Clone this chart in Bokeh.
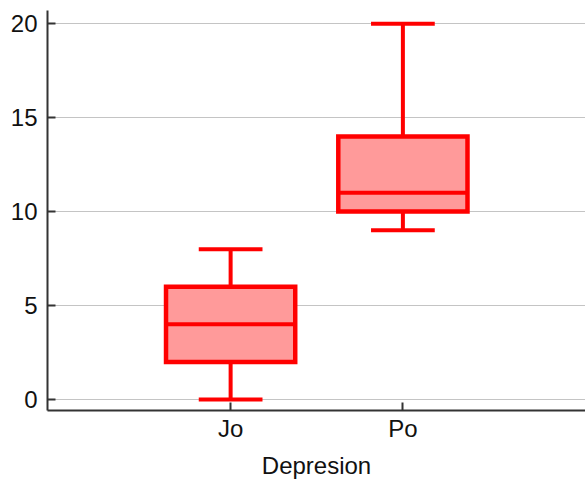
from bokeh.plotting import figure
from bokeh.models import Range1d, FixedTicker, ColumnDataSource
from bokeh.embed import file_html
from bokeh.resources import INLINE

categories = ["Jo", "Po"]
positions = [1, 2]
whisker_low = [0, 9]
q1 = [2, 10]
median = [4, 11]
q3 = [6, 14]
whisker_high = [8, 20]
y_ticks = [0, 5, 10, 15, 20]

box_half = 0.375
cap_half = 0.185

src = ColumnDataSource(dict(
    x=positions,
    left=[x - box_half for x in positions],
    right=[x + box_half for x in positions],
    cap_l=[x - cap_half for x in positions],
    cap_r=[x + cap_half for x in positions],
    lo=whisker_low, q1=q1, med=median, q3=q3, hi=whisker_high,
))

p = figure(width=585, height=482, output_backend="svg", toolbar_location=None,
           x_range=Range1d(-0.063, 3.06), y_range=Range1d(-0.585, 20.7),
           min_border_left=47, min_border_right=0, min_border_bottom=72, min_border_top=10)
p.outline_line_color = None
p.background_fill_color = "white"
p.border_fill_color = "white"

RED = "#ff0000"
FILL = "#ff9a9a"
LW = 4

# whiskers
p.segment(x0="x", y0="q3", x1="x", y1="hi", source=src, line_color=RED, line_width=LW)
p.segment(x0="x", y0="lo", x1="x", y1="q1", source=src, line_color=RED, line_width=LW)
# caps
p.segment(x0="cap_l", y0="hi", x1="cap_r", y1="hi", source=src, line_color=RED, line_width=LW)
p.segment(x0="cap_l", y0="lo", x1="cap_r", y1="lo", source=src, line_color=RED, line_width=LW)
# boxes
p.quad(left="left", right="right", bottom="q1", top="q3", source=src,
       fill_color=FILL, line_color=RED, line_width=4.5, line_join="miter")
# medians
p.segment(x0="left", y0="med", x1="right", y1="med", source=src, line_color=RED, line_width=LW)

for ax in (p.xaxis, p.yaxis):
    ax.axis_line_color = "#333333"
    ax.axis_line_width = 2
    ax.major_tick_line_color = "#333333"
    ax.major_tick_line_width = 2
    ax.major_tick_in = 8
    ax.major_tick_out = 0
    ax.minor_tick_line_color = None
    ax.major_label_text_font = "Liberation Sans"
    ax.major_label_text_font_size = "24px"
    ax.major_label_text_color = "#111111"

p.xaxis.ticker = FixedTicker(ticks=positions)
p.xaxis.major_label_overrides = {x: c for x, c in zip(positions, categories)}
p.xaxis.major_label_standoff = 4
p.xaxis.axis_label = "Depresion"
p.xaxis.axis_label_text_font = "Liberation Sans"
p.xaxis.axis_label_text_font_size = "24px"
p.xaxis.axis_label_text_font_style = "normal"
p.xaxis.axis_label_text_color = "#111111"
p.xaxis.axis_label_standoff = 7

p.yaxis.ticker = FixedTicker(ticks=y_ticks)
p.yaxis.major_label_standoff = 10

p.xgrid.grid_line_color = None
p.ygrid.grid_line_color = "#888888"
p.ygrid.grid_line_dash = "1 1"
p.ygrid.grid_line_width = 1

open("out.html", "w").write(file_html(p, INLINE))
